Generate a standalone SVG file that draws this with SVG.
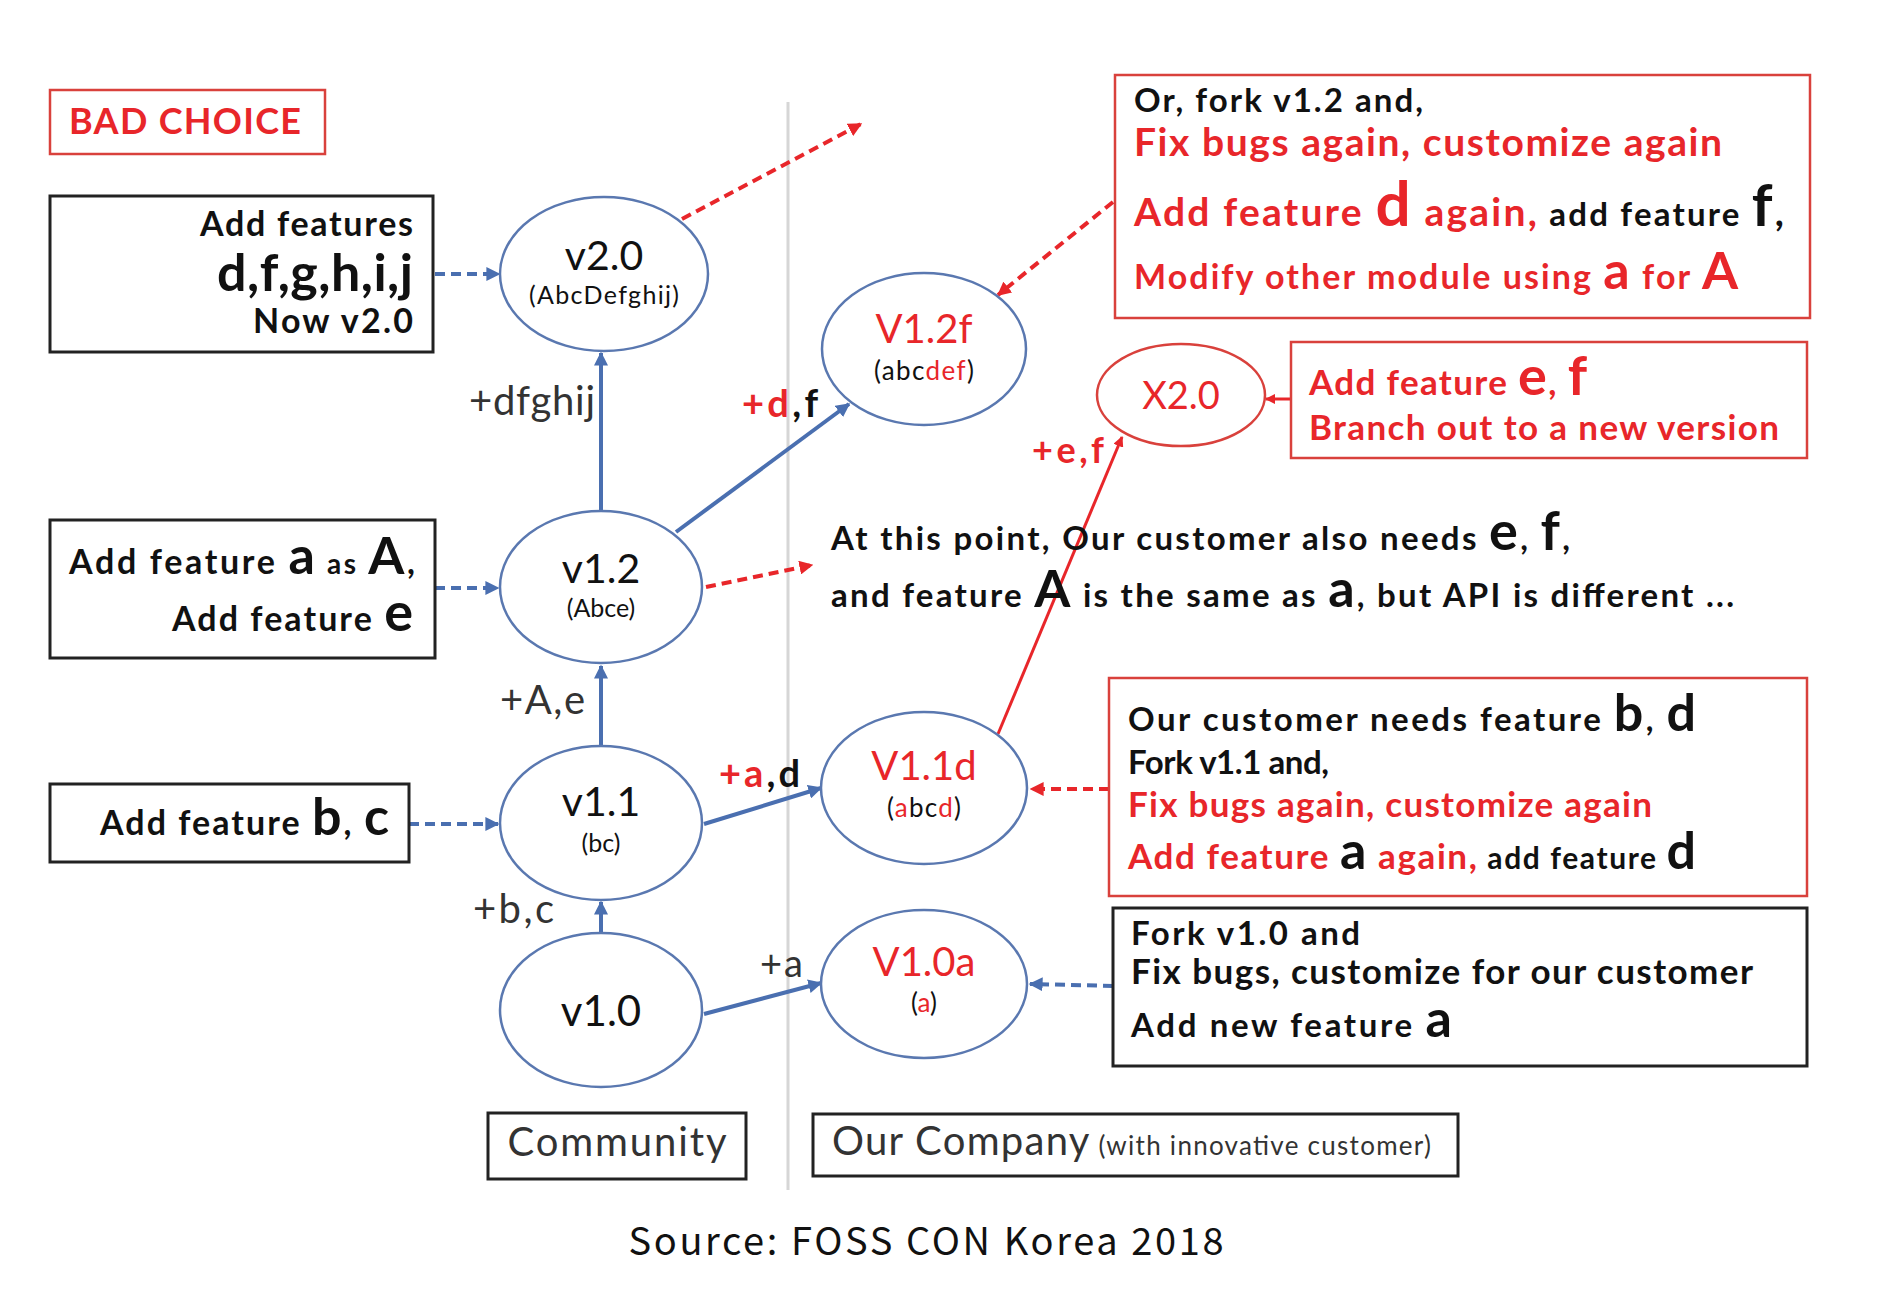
<svg xmlns="http://www.w3.org/2000/svg" width="1886" height="1306" viewBox="0 0 1886 1306">
<defs>
<marker id="ab" viewBox="0 0 10 10" refX="9" refY="5" markerWidth="3.5" markerHeight="3.5" orient="auto"><path d="M0,0 L10,5 L0,10 z" fill="#4a6fb0"/></marker>
<marker id="ar" viewBox="0 0 10 10" refX="9" refY="5" markerWidth="3.5" markerHeight="3.5" orient="auto"><path d="M0,0 L10,5 L0,10 z" fill="#e8262a"/></marker>
</defs>
<style>
text{font-family:Lato,"Liberation Sans",sans-serif;fill:#111}
.b{font-weight:700}
.r{fill:#e8262a}
.g{fill:#333}
.node{fill:#fff;stroke:#5a78b0;stroke-width:2.5}
.xnode{fill:#fff;stroke:#d9413c;stroke-width:2.5}
.box{fill:#fff;stroke:#222;stroke-width:3}
.rbox{fill:#fff;stroke:#d9413c;stroke-width:2.5}
.cb{stroke:#4a6fb0;stroke-width:4;fill:none}
.cbd{stroke:#4a6fb0;stroke-width:4;fill:none;stroke-dasharray:10 6}
.cr{stroke:#e8262a;stroke-width:3;fill:none}
.crd{stroke:#e8262a;stroke-width:4;fill:none;stroke-dasharray:10 6}
.c{text-anchor:middle}
.e{text-anchor:end}
</style>
<rect width="1886" height="1306" fill="#fff"/>
<line x1="788" y1="102" x2="788" y2="1190" stroke="#d6d6d6" stroke-width="3"/>

<g id="connectors">
<line class="cb" x1="601" y1="933" x2="601" y2="902" marker-end="url(#ab)"/>
<line class="cb" x1="601" y1="746" x2="601" y2="666" marker-end="url(#ab)"/>
<line class="cb" x1="601" y1="511" x2="601" y2="353" marker-end="url(#ab)"/>
<line class="cb" x1="704" y1="1014" x2="821" y2="983" marker-end="url(#ab)"/>
<line class="cb" x1="704" y1="824" x2="821" y2="788" marker-end="url(#ab)"/>
<line class="cb" x1="676" y1="532" x2="849" y2="404" marker-end="url(#ab)"/>
<line class="cbd" x1="435" y1="274" x2="499" y2="274" marker-end="url(#ab)"/>
<line class="cbd" x1="435" y1="588" x2="498" y2="588" marker-end="url(#ab)"/>
<line class="cbd" x1="409" y1="824" x2="498" y2="824" marker-end="url(#ab)"/>
<line class="cbd" x1="1113" y1="986" x2="1030" y2="984" marker-end="url(#ab)"/>
<line class="crd" x1="682" y1="219" x2="861" y2="124" marker-end="url(#ar)"/>
<line class="crd" x1="706" y1="587" x2="812" y2="565" marker-end="url(#ar)"/>
<line class="crd" x1="1113" y1="202" x2="998" y2="295" marker-end="url(#ar)"/>
<line class="crd" x1="1109" y1="789" x2="1031" y2="789" marker-end="url(#ar)"/>
<line class="cr" x1="998" y1="734" x2="1122" y2="437" marker-end="url(#ar)"/>
<line class="cr" x1="1291" y1="399" x2="1266" y2="399" marker-end="url(#ar)"/>
</g>

<g id="bad-choice">
<rect class="rbox" x="50" y="90" width="275" height="64"/>
<text class="b r" x="69" y="134" font-size="36" textLength="232">BAD CHOICE</text>
</g>

<g id="v20">
<ellipse class="node" cx="604" cy="274" rx="104" ry="77"/>
<text class="c" x="604" y="270" font-size="41">v2.0</text>
<text class="c" x="604" y="304" font-size="25" textLength="150">(AbcDefghij)</text>
</g>
<g id="v12">
<ellipse class="node" cx="601" cy="587" rx="101" ry="76"/>
<text class="c" x="601" y="583" font-size="41">v1.2</text>
<text class="c" x="601" y="617" font-size="25">(Abce)</text>
</g>
<g id="v11">
<ellipse class="node" cx="601" cy="823" rx="101" ry="77"/>
<text class="c" x="601" y="816" font-size="41">v1.1</text>
<text class="c" x="601" y="852" font-size="25">(bc)</text>
</g>
<g id="v10">
<ellipse class="node" cx="601" cy="1010" rx="101" ry="77"/>
<text class="c" x="601" y="1026" font-size="42">v1.0</text>
</g>
<g id="v12f">
<ellipse class="node" cx="924" cy="349" rx="102" ry="76"/>
<text class="c r" x="924" y="343" font-size="40">V1.2f</text>
<text class="c" x="924" y="380" font-size="26" textLength="100">(abc<tspan class="r">def</tspan>)</text>
</g>
<g id="v11d">
<ellipse class="node" cx="924" cy="788" rx="103" ry="76"/>
<text class="c r" x="924" y="780" font-size="40">V1.1d</text>
<text class="c" x="924" y="817" font-size="26" textLength="74">(<tspan class="r">a</tspan>bc<tspan class="r">d</tspan>)</text>
</g>
<g id="v10a">
<ellipse class="node" cx="924" cy="984" rx="103" ry="74"/>
<text class="c r" x="924" y="976" font-size="40">V1.0a</text>
<text class="c" x="924" y="1012" font-size="26">(<tspan class="r">a</tspan>)</text>
</g>
<g id="x20">
<ellipse class="xnode" cx="1181" cy="395" rx="84" ry="51"/>
<text class="c r" x="1181" y="409" font-size="38">X2.0</text>
</g>

<g id="box-v20">
<rect class="box" x="50" y="196" width="383" height="156"/>
<text class="b e" x="413" y="236" font-size="34" textLength="213">Add features</text>
<text class="b e" x="413" y="291" font-size="52" textLength="196">d,f,g,h,i,j</text>
<text class="b e" x="413" y="333" font-size="34" textLength="160">Now v2.0</text>
</g>
<g id="box-v12">
<rect class="box" x="50" y="520" width="385" height="138"/>
<text class="b e" x="415" y="574" font-size="34" textLength="346">Add feature <tspan font-size="52">a</tspan><tspan font-size="28"> as </tspan><tspan font-size="52">A</tspan>,</text>
<text class="b e" x="413" y="631" font-size="34" textLength="241">Add feature  <tspan font-size="54">e</tspan></text>
</g>
<g id="box-v11">
<rect class="box" x="50" y="784" width="359" height="78"/>
<text class="b e" x="389" y="835" font-size="34" textLength="289">Add feature <tspan font-size="52">b</tspan>, <tspan font-size="52">c</tspan></text>
</g>

<g id="box-fork12">
<rect class="rbox" x="1115" y="75" width="695" height="243"/>
<text class="b" x="1134" y="112" font-size="33" textLength="289">Or, fork v1.2 and,</text>
<text class="b r" x="1134" y="156" font-size="39" textLength="588">Fix bugs again, customize again</text>
<text class="b" x="1134" y="226" font-size="39" textLength="650"><tspan class="r">Add feature </tspan><tspan class="r" font-size="62">d</tspan><tspan class="r"> again,</tspan><tspan font-size="33"> add feature </tspan><tspan font-size="58">f</tspan>,</text>
<text class="b r" x="1134" y="289" font-size="34" textLength="604">Modify other module using <tspan class="r" font-size="52">a</tspan> for <tspan class="r" font-size="52">A</tspan></text>
</g>

<g id="box-x20">
<rect class="rbox" x="1291" y="342" width="516" height="116"/>
<text class="b r" x="1309" y="395" font-size="35" textLength="278">Add feature <tspan class="r" font-size="54">e</tspan>, <tspan class="r" font-size="54">f</tspan></text>
<text class="b r" x="1309" y="440" font-size="35" textLength="470">Branch out to a new version</text>
</g>

<g id="note-middle">
<text class="b" x="831" y="550" font-size="33" textLength="739">At this point, Our customer also needs <tspan font-size="54">e</tspan>, <tspan font-size="54">f</tspan>,</text>
<text class="b" x="831" y="607" font-size="33" textLength="903">and feature <tspan font-size="52">A</tspan> is the same as <tspan font-size="52">a</tspan>, but API is different ...</text>
</g>

<g id="box-fork11">
<rect class="rbox" x="1109" y="678" width="698" height="218"/>
<text class="b" x="1128" y="731" font-size="33" textLength="568">Our customer needs feature <tspan font-size="52">b</tspan>, <tspan font-size="52">d</tspan></text>
<text class="b" x="1128" y="774" font-size="33" textLength="201">Fork v1.1 and,</text>
<text class="b r" x="1128" y="817" font-size="35" textLength="524">Fix bugs again, customize again</text>
<text class="b" x="1128" y="869" font-size="35" textLength="568"><tspan class="r">Add feature </tspan><tspan font-size="52">a</tspan><tspan class="r"> again,</tspan><tspan font-size="30"> add feature </tspan><tspan font-size="52">d</tspan></text>
</g>

<g id="box-fork10">
<rect class="box" x="1113" y="908" width="694" height="158"/>
<text class="b" x="1131" y="945" font-size="33" textLength="229">Fork v1.0 and</text>
<text class="b" x="1131" y="984" font-size="35" textLength="622">Fix bugs, customize for our customer</text>
<text class="b" x="1131" y="1037" font-size="33" textLength="321">Add new feature <tspan font-size="52">a</tspan></text>
</g>

<g id="edge-labels">
<text class="g" x="469" y="415" font-size="40" textLength="126">+dfghij</text>
<text class="b" x="742" y="417" font-size="38" textLength="76"><tspan class="r">+d</tspan>,f</text>
<text class="b r" x="1032" y="463" font-size="36" textLength="72">+e,f</text>
<text class="g" x="500" y="714" font-size="40" textLength="85">+A,e</text>
<text class="b" x="719" y="787" font-size="38" textLength="81"><tspan class="r">+a</tspan>,d</text>
<text class="g" x="473" y="923" font-size="40" textLength="81">+b,c</text>
<text class="g" x="760" y="977" font-size="38" textLength="43">+a</text>
</g>

<g id="label-community">
<rect class="box" x="488" y="1113" width="258" height="66"/>
<text class="c g" x="617" y="1156" font-size="40" textLength="219">Community</text>
</g>
<g id="label-company">
<rect class="box" x="813" y="1114" width="645" height="62"/>
<text class="g" x="832" y="1155" font-size="40" textLength="599">Our Company<tspan font-size="26"> (with innovative customer)</tspan></text>
</g>

<text x="926" y="1255" font-size="38" text-anchor="middle" textLength="595" style="font-family:'Noto Sans CJK KR','Noto Sans',sans-serif">Source: FOSS CON Korea 2018</text>
</svg>
